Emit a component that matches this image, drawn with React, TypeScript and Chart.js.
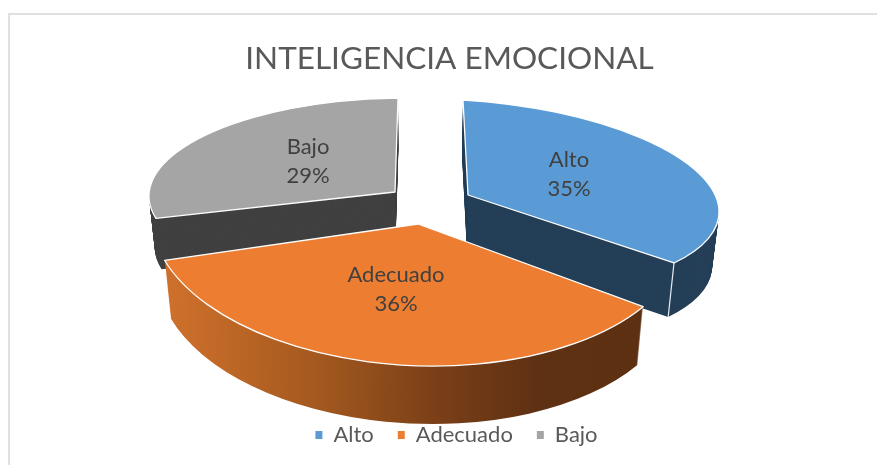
import React, { useEffect, useRef } from "react";
import { Chart, registerables } from "chart.js";

Chart.register(...registerables);

const chartTitle = "INTELIGENCIA EMOCIONAL";
const categories = ["Alto", "Adecuado", "Bajo"];
const shares = [35, 36, 29];
const topColors = ["#5B9BD5", "#ED7D31", "#A5A5A5"];
const sideColors = ["#243F57", "gradient", "#404040"];

// Drawing order: back slices first.
const drawOrder = [0, 2, 1];
const sideStops: [number, string][] = [[165, "#CE702B"], [300, "#A4591F"], [420, "#7A3F17"], [520, "#5F3113"], [645, "#5E3012"]];

// Per-slice projection of the flat pie onto the tilted, exploded 3D view (style only).
const projections = [
  { apex: [468, 195], ex: [251, 15], ey: [5, 95], depth: 54, label: [569, 175] },
  { apex: [418, 224], ex: [266, -1], ey: [17, 142], depth: 58, label: [396, 290] },
  { apex: [395, 192], ex: [246, -3], ey: [-3, 94], depth: 51, label: [308, 162] },
];
const vanishX = 417;
const shrink = 0.00042;
const titleShift = 11;
const legendShift = 18;

const pie3d = {
  id: "pie3d",
  afterLayout(chart: any) {
    chart.titleBlock.left += titleShift;
    chart.titleBlock.right += titleShift;
    chart.legend.left += legendShift;
    chart.legend.right += legendShift;
  },
  beforeDatasetDraw(chart: any) {
    const ctx: CanvasRenderingContext2D = chart.ctx;
    const arcs = chart.getDatasetMeta(0).data;
    const place = (arc: any, i: number, layer: number) => {
      const p = projections[i];
      const r = arc.outerRadius;
      const s = 1 - shrink * layer;
      const a = (p.ex[0] / r) * s, b = p.ex[1] / r, c = (p.ey[0] / r) * s, d = p.ey[1] / r;
      const ax = vanishX + (p.apex[0] - vanishX) * s;
      const ay = p.apex[1] + layer;
      ctx.transform(a, b, c, d, ax - a * arc.x - c * arc.y, ay - b * arc.x - d * arc.y);
      return { a, c };
    };
    const paint = (arc: any, color: any) => {
      const original = arc.options;
      arc.options = { ...original, backgroundColor: color, borderWidth: 0 };
      arc.draw(ctx);
      arc.options = original;
    };
    const outline = (arc: any, i: number, layer: number, width: number) => {
      ctx.save();
      place(arc, i, layer);
      ctx.beginPath();
      ctx.moveTo(arc.x, arc.y);
      ctx.arc(arc.x, arc.y, arc.outerRadius, arc.startAngle, arc.endAngle);
      ctx.closePath();
      ctx.restore();
      ctx.strokeStyle = "#FFFFFF";
      ctx.lineWidth = width;
      ctx.lineJoin = "round";
      ctx.stroke();
    };
    drawOrder.forEach((i) => {
      const arc = arcs[i];
      const depth = projections[i].depth;
      for (let layer = depth; layer >= 1; layer--) {
        ctx.save();
        const { a, c } = place(arc, i, layer);
        let fill: any = sideColors[i];
        if (fill === "gradient") {
          const m = ctx.getTransform();
          const toLocal = (X: number) => (X - m.e - c * arc.y) / a;
          fill = ctx.createLinearGradient(toLocal(sideStops[0][0]), 0, toLocal(sideStops[sideStops.length - 1][0]), 0);
          const span = sideStops[sideStops.length - 1][0] - sideStops[0][0];
          sideStops.forEach(([x, col]) => fill.addColorStop((x - sideStops[0][0]) / span, col));
        }
        paint(arc, fill);
        ctx.restore();
      }
      // white edge running down the outer corner of the blue slice
      if (i === 0) {
        const edge = (layer: number) => {
          ctx.save();
          place(arc, i, layer);
          const m = ctx.getTransform();
          ctx.restore();
          const lx = arc.x + Math.cos(arc.endAngle) * arc.outerRadius;
          const ly = arc.y + Math.sin(arc.endAngle) * arc.outerRadius;
          return [m.a * lx + m.c * ly + m.e, m.b * lx + m.d * ly + m.f];
        };
        const top = edge(0), bottom = edge(depth);
        ctx.beginPath();
        ctx.moveTo(top[0], top[1]);
        ctx.lineTo(bottom[0], bottom[1]);
        ctx.strokeStyle = "#E8EEF3";
        ctx.lineWidth = 1.2;
        ctx.stroke();
      }
      ctx.save();
      place(arc, i, 0);
      paint(arc, topColors[i]);
      ctx.restore();
      outline(arc, i, 0, 1.3);
    });
    const total = shares.reduce((sum, v) => sum + v, 0);
    ctx.fillStyle = "#404040";
    ctx.font = "22px Lato";
    ctx.textAlign = "center";
    ctx.textBaseline = "middle";
    drawOrder.forEach((i) => {
      const [x, y] = projections[i].label;
      ctx.fillText(categories[i], x, y - 15);
      ctx.fillText(`${Math.round((shares[i] / total) * 100)}%`, x, y + 14);
    });
    return false;
  },
};

export default function App() {
  const ref = useRef<HTMLCanvasElement>(null);
  useEffect(() => {
    document.body.style.margin = "0";
    const chart = new Chart(ref.current as HTMLCanvasElement, {
      type: "pie",
      data: {
        labels: categories,
        datasets: [{ data: shares, backgroundColor: topColors, borderWidth: 0 }],
      },
      options: {
        responsive: false,
        animation: false,
        layout: { padding: { bottom: 9 } },
        plugins: {
          tooltip: { enabled: false },
          title: {
            display: true,
            text: chartTitle,
            color: "#595959",
            font: { family: "Lato", size: 31.5, weight: "normal", lineHeight: 1.2 },
            padding: { top: 40, bottom: 10 },
          },
          legend: {
            display: true,
            position: "bottom",
            labels: {
              color: "#595959",
              boxWidth: 7,
              boxHeight: 8,
              padding: 24,
              font: { family: "Lato", size: 22 },
            },
          },
        },
      },
      plugins: [pie3d],
    } as any);
    return () => chart.destroy();
  }, []);
  return (
    <div style={{ position: "absolute", left: 0, top: 0, width: 877, height: 465, background: "#fff", overflow: "hidden" }}>
      <div
        style={{
          position: "absolute",
          left: 8,
          top: 13,
          right: 0,
          bottom: 0,
          borderLeft: "2px solid #E0E0E0",
          borderTop: "2px solid #E0E0E0",
        }}
      />
      <canvas ref={ref} width={877} height={465} style={{ position: "absolute", left: 0, top: 0, display: "block" }} />
    </div>
  );
}
